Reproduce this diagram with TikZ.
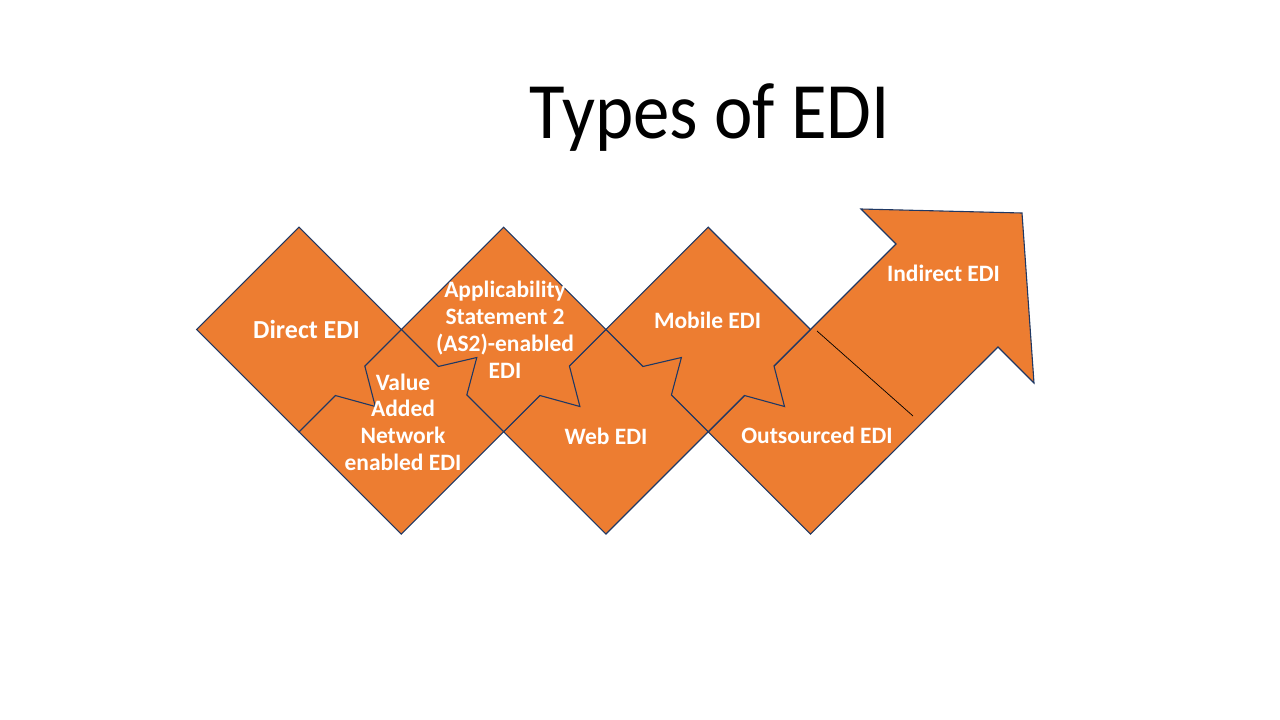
\documentclass[tikz,border=0pt]{standalone}
\usepackage{fontspec}
\setmainfont{Carlito}
\usetikzlibrary{calc}
\definecolor{edifill}{HTML}{ED7D31}
\definecolor{ediline}{HTML}{1F3864}
\begin{document}
\begin{tikzpicture}[x=1pt,y=-1pt,
  piece/.style={fill=edifill,draw=ediline,line width=1.1pt,line join=miter},
  lbl/.style={text=white,font=\bfseries\fontsize{23.5}{26.9}\selectfont,align=center,anchor=base,inner sep=0pt}]
\useasboundingbox (0,0) rectangle (1280,720);
\def\h{102.3}
\coordinate (U1) at (299,329.5);
\coordinate (U2) at (503.6,329.5);
\coordinate (U3) at (708.2,329.5);
\coordinate (L1) at (401.3,431.8);
\coordinate (L2) at (605.9,431.8);
\coordinate (L3) at (810.5,431.8);
\foreach \n in {U1,U2,U3,L1,L2,L3}{
  \coordinate (\n-t) at ($(\n)+(0,-\h)$);
  \coordinate (\n-r) at ($(\n)+(\h,0)$);
  \coordinate (\n-b) at ($(\n)+(0,\h)$);
  \coordinate (\n-l) at ($(\n)+(-\h,0)$);
}
% final arrow (Outsourced + Indirect)
\draw[piece] (L3-t) -- (896,244) -- (861,209) -- (1022,213) -- (1034,383) -- (998,347) -- (L3-b) -- (L3-l) -- cycle;
\draw[black,line width=0.7pt] (817,331) -- (913,416);
% Mobile
\draw[piece] (U3-t) -- (U3-r) -- ($(U3-r)+(-36.5,36.5)$) -- ($(U3-r)+(-26,77)$) -- ($(U3-r)+(-66,66)$) -- (U3-b) -- (U3-l) -- cycle;
% Web
\draw[piece] (L2-t) -- ($(L2-t)+(37,37)$) -- ($(L2-t)+(75.5,28)$) -- ($(L2-t)+(65.5,65.5)$) -- (L2-r) -- (L2-b) -- (L2-l) -- cycle;
% AS2
\draw[piece] (U2-t) -- (U2-r) -- ($(U2-r)+(-36.5,36.5)$) -- ($(U2-r)+(-26,77)$) -- ($(U2-r)+(-66,66)$) -- (U2-b) -- (U2-l) -- cycle;
% VAN
\draw[piece] (L1-t) -- ($(L1-t)+(37,37)$) -- ($(L1-t)+(75.5,28)$) -- ($(L1-t)+(65.5,65.5)$) -- (L1-r) -- (L1-b) -- (L1-l) -- cycle;
% Direct
\draw[piece] (U1-t) -- (U1-r) -- ($(U1-r)+(-36.5,36.5)$) -- ($(U1-r)+(-26,77)$) -- ($(U1-r)+(-66,66)$) -- (U1-b) -- (U1-l) -- cycle;
% labels
\node[anchor=base,font=\fontsize{80}{90}\selectfont,inner sep=0pt] (title) at (710,138.5) {\scalebox{0.91}[1]{Types of EDI}};
\node[lbl,font=\bfseries\fontsize{26}{30}\selectfont] (direct) at (306.5,338) {Direct EDI};
\node[lbl] (van) at (403,470.7) {Value\\Added\\Network\\enabled EDI};
\node[lbl] (as2) at (505,378) {Applicability\\Statement 2\\(AS2)-enabled\\EDI};
\node[lbl] (web) at (606,444) {Web EDI};
\node[lbl] (mobile) at (707.5,328) {Mobile EDI};
\node[lbl] (outs) at (817,443) {Outsourced EDI};
\node[lbl] (indirect) at (943.5,281.7) {Indirect EDI};
\end{tikzpicture}
\end{document}
